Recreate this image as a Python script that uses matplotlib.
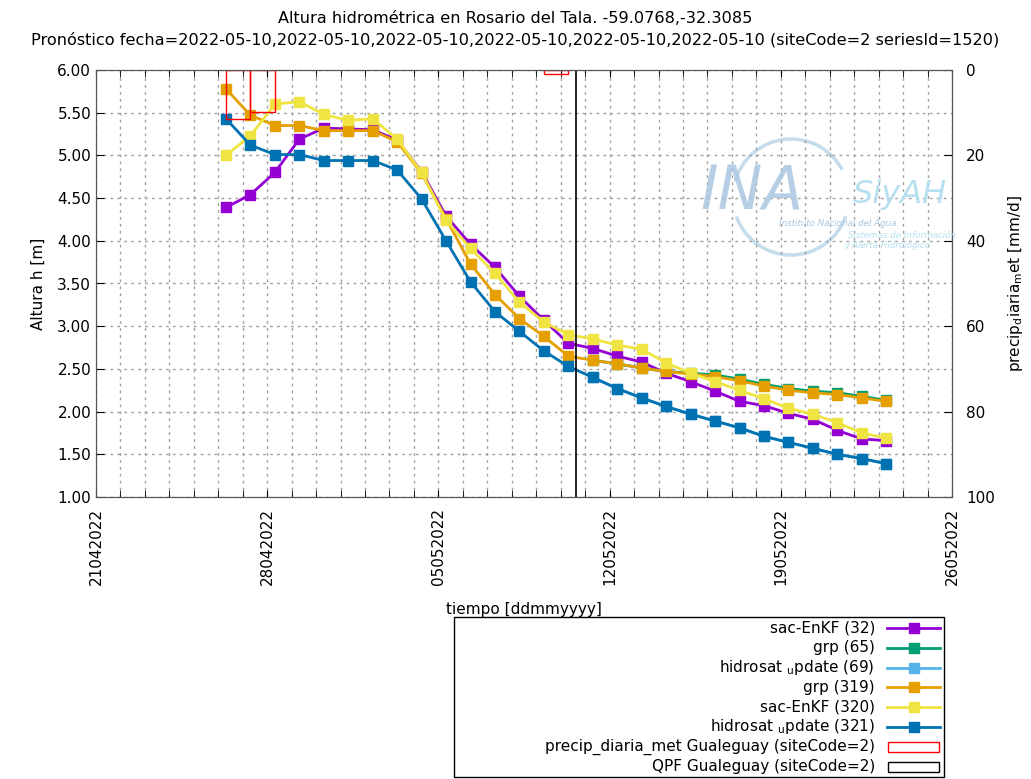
import numpy as np
import matplotlib
matplotlib.use("Agg")
import matplotlib.pyplot as plt
import matplotlib.dates as mdates
from matplotlib.lines import Line2D
from matplotlib.patches import Rectangle, Arc
import datetime as dt

# ---------------- data ----------------
start_time = dt.datetime(2022, 4, 26, 7, 30)
n_points = 28
times = [start_time + dt.timedelta(days=i) for i in range(n_points)]

sac_enkf_32 = [4.39, 4.54, 4.80, 5.19, 5.32, 5.31, 5.30, 5.18, 4.81, 4.29, 3.96, 3.69,
               3.35, 3.07, 2.80, 2.74, 2.65, 2.58, 2.45, 2.35, 2.24, 2.12, 2.07, 1.98,
               1.91, 1.78, 1.68, 1.66]
grp_319 = [5.78, 5.47, 5.35, 5.35, 5.29, 5.29, 5.29, 5.16, 4.79, 4.26, 3.73, 3.37,
           3.09, 2.88, 2.65, 2.60, 2.56, 2.51, 2.47, 2.44, 2.41, 2.36, 2.30, 2.25,
           2.22, 2.20, 2.16, 2.12]
sac_enkf_320 = [5.00, 5.23, 5.60, 5.63, 5.48, 5.41, 5.43, 5.19, 4.80, 4.24, 3.91, 3.62,
                3.28, 3.05, 2.90, 2.85, 2.78, 2.73, 2.57, 2.45, 2.35, 2.25, 2.15, 2.04,
                1.97, 1.87, 1.75, 1.69]
hidrosat_321 = [5.43, 5.12, 5.01, 5.01, 4.94, 4.94, 4.94, 4.83, 4.49, 4.00, 3.52, 3.17,
                2.94, 2.71, 2.53, 2.40, 2.27, 2.16, 2.06, 1.97, 1.89, 1.81, 1.71, 1.64,
                1.57, 1.50, 1.45, 1.39]
# forecast-only series (start at index 15)
fc_start = 15
grp_65 = [2.60, 2.56, 2.51, 2.47, 2.45, 2.43, 2.38, 2.32, 2.27, 2.24, 2.22, 2.18, 2.13]
hidrosat_69 = [2.40, 2.27, 2.16, 2.06, 1.97, 1.89, 1.81, 1.71, 1.64, 1.57, 1.50, 1.45, 1.39]

precip_idx = [0, 1, 13]
precip_vals = [11.5, 9.8, 1.0]
qpf_time = dt.datetime(2022, 5, 10, 15, 0)

series_labels = ["sac-EnKF (32)", "grp (65)", "hidrosat $_\\mathregular{u}$pdate (69)",
                 "grp (319)", "sac-EnKF (320)", "hidrosat $_\\mathregular{u}$pdate (321)"]
series_colors = ["#9400d3", "#009e73", "#56b4e9", "#e69f00", "#f0e442", "#0072b2"]
precip_labels = ["precip_diaria_met Gualeguay (siteCode=2)", "QPF Gualeguay (siteCode=2)"]

xtick_dates = [dt.datetime(2022, 4, 21) + dt.timedelta(days=7 * k) for k in range(6)]
ytick_vals = [1.0, 1.5, 2.0, 2.5, 3.0, 3.5, 4.0, 4.5, 5.0, 5.5, 6.0]
y2tick_vals = [0, 20, 40, 60, 80, 100]

title_text = ("Altura hidrométrica en Rosario del Tala. -59.0768,-32.3085\n"
              "Pronóstico fecha=2022-05-10,2022-05-10,2022-05-10,2022-05-10,2022-05-10,2022-05-10 "
              "(siteCode=2 seriesId=1520)")

# ---------------- figure ----------------
plt.rcParams['font.family'] = ['DejaVu Sans']
W, H = 1031, 779
fig = plt.figure(figsize=(W / 100, H / 100), dpi=100)
ax = fig.add_axes([96 / W, 1 - 497 / H, (952 - 96) / W, (497 - 70) / H])
ax2 = ax.twinx()

# watermark logo (behind everything)
logo_blue = '#a9c7e0'
logo_cyan = '#b6e0f0'
fig.text(752 / W, 1 - 193 / H, "INA", fontsize=43, style='italic', color=logo_blue,
         ha='center', va='center', alpha=0.85, zorder=0)
fig.text(900 / W, 1 - 194 / H, "SiyAH", fontsize=23, style='italic', color=logo_cyan,
         ha='center', va='center', zorder=0)
fig.text(838 / W, 1 - 224 / H, "Instituto Nacional del Agua", fontsize=6.3, style='italic',
         color=logo_blue, ha='center', va='center', zorder=0)
fig.text(902 / W, 1 - 235 / H, "Sistemas de Información", fontsize=6.3, style='italic',
         color=logo_cyan, ha='center', va='center', zorder=0)
fig.text(887 / W, 1 - 245 / H, "y Alerta Hidrológico", fontsize=6.3, style='italic',
         color=logo_cyan, ha='center', va='center', zorder=0)
for t1, t2 in [(35, 160), (205, 335)]:
    fig.add_artist(Arc((791 / W, 1 - 197 / H), 116 / W, 116 / H, theta1=t1, theta2=t2,
                       transform=fig.transFigure, color='#c5dcec', lw=2.5, zorder=0))

fc_times = times[fc_start:]
series = [(times, sac_enkf_32), (fc_times, grp_65), (fc_times, hidrosat_69),
          (times, grp_319), (times, sac_enkf_320), (times, hidrosat_321)]
for (tx, ys), c in zip(series, series_colors):
    ax.plot(tx, ys, color=c, lw=2, marker='s', ms=7.5, zorder=3)

# precipitation bars on inverted right axis
for i, v in zip(precip_idx, precip_vals):
    ax2.bar(times[i], v, width=1.0, align='edge', bottom=0,
            facecolor='none', edgecolor='#ff0000', lw=1, zorder=2)
ax2.axvline(qpf_time, color='black', lw=1.2)
ax2.set_ylim(100, 0)
ax2.set_yticks(y2tick_vals)
ax2.tick_params(axis='y', direction='in', length=6, labelsize=11, pad=10)
ax2.set_ylabel("precip$_\\mathregular{d}$iaria$_\\mathregular{m}$et [mm/d]", fontsize=11, labelpad=8)
ax2.patch.set_visible(False)

ax.set_xlim(dt.datetime(2022, 4, 21), dt.datetime(2022, 5, 26))
ax.set_ylim(1.0, 6.0)
ax.set_yticks(ytick_vals)
ax.set_yticklabels([f"{v:.2f}" for v in ytick_vals])
ax.set_xticks(xtick_dates)
ax.set_xticklabels([d.strftime("%d%m%Y") for d in xtick_dates], rotation=90, fontsize=11)
ax.xaxis.set_minor_locator(mdates.DayLocator())
ax.tick_params(axis='x', which='both', direction='in', top=True, length=5, pad=8)
ax.tick_params(axis='y', direction='in', length=6, labelsize=11)
ax.grid(True, which='both', axis='x', color='#a0a0a0', ls=(0, (2, 3)), lw=1)
ax.grid(True, which='major', axis='y', color='#a0a0a0', ls=(0, (2, 3)), lw=1)
ax.set_axisbelow(True)
ax.patch.set_visible(False)
ax.set_ylabel("Altura h [m]", fontsize=11, labelpad=8)
ax.set_xlabel("tiempo [ddmmyyyy]", fontsize=11, labelpad=12)
for a in (ax, ax2):
    for s in a.spines.values():
        s.set_color('#555555')

fig.text(0.5, 1 - 29 / H, title_text, ha='center', va='center', fontsize=11.6, linespacing=1.45)

# legend (manual, gnuplot style)
fig.add_artist(Rectangle((454 / W, 1 - 777 / H), (944 - 454) / W, (777 - 617) / H,
                         transform=fig.transFigure, facecolor='white', edgecolor='black', lw=1))
row0 = 628
dy = 19.8
for k, (lab, c) in enumerate(zip(series_labels, series_colors)):
    yy = 1 - (row0 + k * dy) / H
    fig.text(875 / W, yy, lab, ha='right', va='center', fontsize=11)
    fig.add_artist(Line2D([887 / W, 940 / W], [yy, yy], transform=fig.transFigure,
                          color=c, lw=2))
    fig.add_artist(Line2D([913.5 / W], [yy], transform=fig.transFigure, color=c,
                          marker='s', ms=7.5, lw=0))
for k, (lab, ec) in enumerate(zip(precip_labels, ['#ff0000', 'black'])):
    yy = 1 - (row0 + (6 + k) * dy) / H
    fig.text(875 / W, yy, lab, ha='right', va='center', fontsize=11)
    fig.add_artist(Rectangle((888 / W, yy - 5 / H), 51 / W, 10 / H, transform=fig.transFigure,
                             facecolor='none', edgecolor=ec, lw=1))

fig.savefig("out.png", dpi=100)
